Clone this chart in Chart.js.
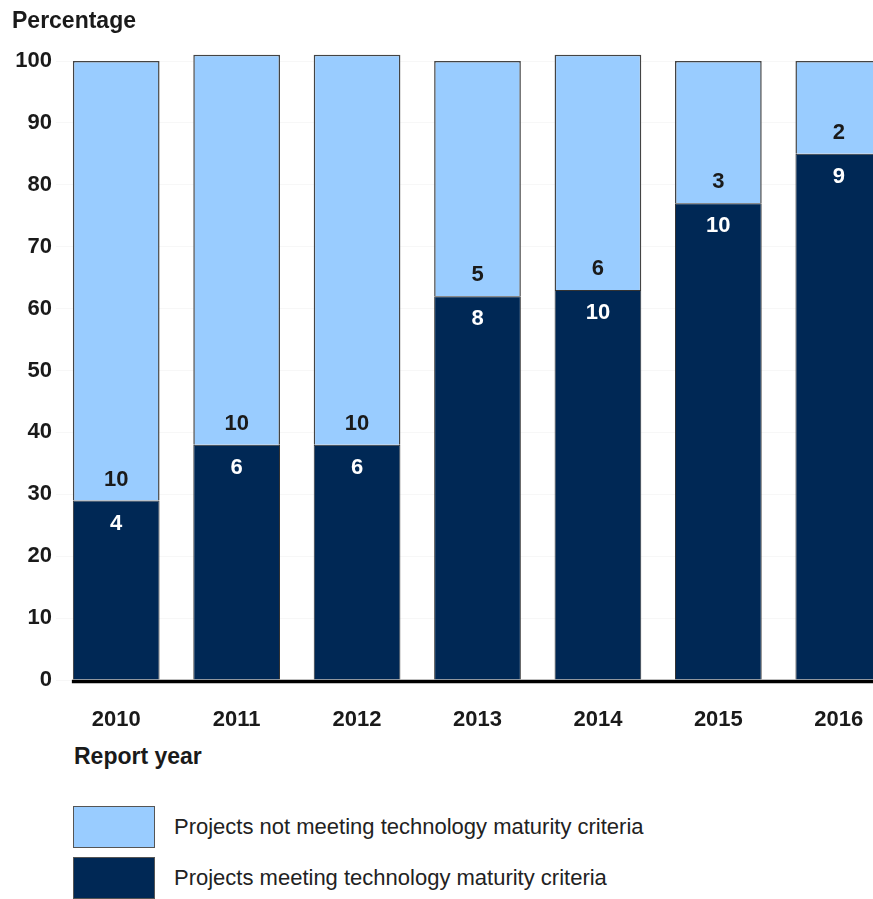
<!DOCTYPE html>
<html>
<head>
<meta charset="utf-8">
<script src="https://cdn.jsdelivr.net/npm/chart.js@4/dist/chart.umd.min.js"></script>
<style>
    body { margin: 0; background: #fff; overflow: hidden; font-family: "Liberation Sans", Arial, sans-serif; }
    #wrap { position: relative; width: 873px; height: 899px; overflow: hidden; }
    #chart { position: absolute; left: 0; top: 0; }
    .ttl { position: absolute; font-weight: bold; font-size: 23px; color: #1a1a1a; line-height: 1; }
    .key { position: absolute; left: 73px; width: 80px; height: 40px; border: 1px solid #555; }
    .keytxt { position: absolute; left: 174px; font-size: 22px; color: #222; line-height: 1; }
</style>
</head>
<body>
<div id="wrap">
    <canvas id="chart" width="899" height="740"></canvas>
    <div class="ttl" style="left:12px;top:9px;">Percentage</div>
    <div class="ttl" style="left:74px;top:745px;">Report year</div>
    <div class="key" style="top:806px;background:#99ccff;"></div>
    <div class="keytxt" style="top:816px;">Projects not meeting technology maturity criteria</div>
    <div class="key" style="top:857px;background:#002855;"></div>
    <div class="keytxt" style="top:867px;">Projects meeting technology maturity criteria</div>
</div>
<script>
const YEARS = ['2010', '2011', '2012', '2013', '2014', '2015', '2016'];

// share of projects (percent), as plotted
const MEETING_PCT = [29, 38, 38, 62, 63, 77, 85];
const NOT_MEETING_PCT = [71, 63, 63, 38, 38, 23, 15];

// number of projects, written on the bars
const MEETING_COUNT = [4, 6, 6, 8, 10, 10, 9];
const NOT_MEETING_COUNT = [10, 10, 10, 5, 6, 3, 2];

const DARK = '#002855';
const LIGHT = '#99ccff';
const FONT = '"Liberation Sans", Arial, sans-serif';

// counts written just above / below the split between the two segments
const countLabels = {
    id: 'countLabels',
    afterDatasetsDraw(chart) {
        const ctx = chart.ctx;
        const bars = chart.getDatasetMeta(0).data;
        ctx.save();
        ctx.font = `bold 22px ${FONT}`;
        ctx.textAlign = 'center';
        ctx.textBaseline = 'middle';
        bars.forEach((bar, i) => {
            ctx.fillStyle = '#ffffff';
            ctx.fillText(String(MEETING_COUNT[i]), bar.x, bar.y + 23);
            ctx.fillStyle = '#1a1a1a';
            ctx.fillText(String(NOT_MEETING_COUNT[i]), bar.x, bar.y - 21);
        });
        ctx.restore();
    }
};

// heavy black baseline starting at the first bar
const baseline = {
    id: 'baseline',
    afterDatasetsDraw(chart) {
        const ctx = chart.ctx;
        const first = chart.getDatasetMeta(0).data[0];
        const y0 = chart.scales.y.getPixelForValue(0);
        ctx.save();
        ctx.strokeStyle = '#000';
        ctx.lineWidth = 3.5;
        ctx.beginPath();
        ctx.moveTo(first.x - first.width / 2 - 1, y0 + 1.5);
        ctx.lineTo(chart.chartArea.right, y0 + 1.5);
        ctx.stroke();
        ctx.restore();
    }
};

new Chart(document.getElementById('chart'), {
    type: 'bar',
    data: {
        labels: YEARS,
        datasets: [
            {
                label: 'Projects meeting technology maturity criteria',
                data: MEETING_PCT,
                backgroundColor: DARK,
                borderColor: '#333',
                borderWidth: 1,
                clip: false
            },
            {
                label: 'Projects not meeting technology maturity criteria',
                data: NOT_MEETING_PCT,
                backgroundColor: LIGHT,
                borderColor: '#444',
                borderWidth: 1.5,
                clip: false
            }
        ]
    },
    options: {
        responsive: false,
        animation: false,
        layout: { padding: { top: 61, right: 0, bottom: 0, left: 0 } },
        datasets: { bar: { categoryPercentage: 1, barPercentage: 0.72 } },
        plugins: {
            legend: { display: false },
            tooltip: { enabled: false }
        },
        scales: {
            x: {
                stacked: true,
                grid: { display: false, drawTicks: false },
                border: { display: false },
                ticks: { color: '#1a1a1a', padding: 27, font: { family: FONT, size: 22, weight: 'bold' } },
                afterFit(scale) { scale.height = 60; }
            },
            y: {
                stacked: true,
                min: 0,
                max: 100,
                grid: { color: 'rgba(0,0,0,0.03)', drawTicks: false },
                border: { display: false },
                ticks: { stepSize: 10, color: '#1a1a1a', padding: 4, font: { family: FONT, size: 22, weight: 'bold' } },
                afterFit(scale) { scale.width = 56; }
            }
        }
    },
    plugins: [countLabels, baseline]
});
</script>
</body>
</html>
